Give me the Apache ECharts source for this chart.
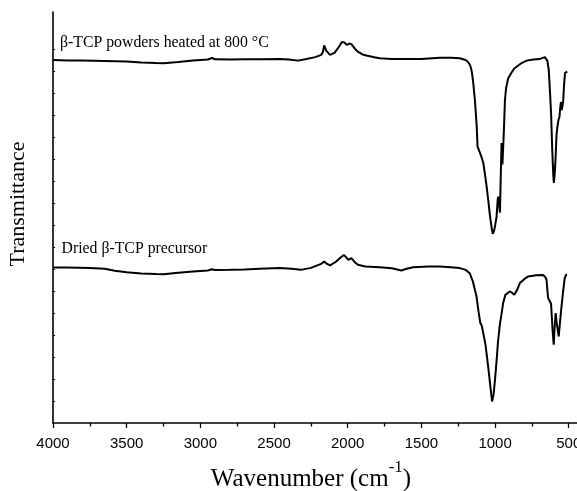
<!DOCTYPE html>
<html>
<head>
<meta charset="utf-8">
<script src="https://cdn.jsdelivr.net/npm/echarts@6/dist/echarts.min.js"></script>
<style>
html,body{margin:0;padding:0;background:#fff;}
#main{width:577px;height:491px;}
</style>
</head>
<body>
<div id="main"></div>
<script>
// Wavenumber (cm-1) and transmittance (arbitrary units, offset spectra)
const heatedWn = [4000,3900,3800,3650,3500,3400,3300,3250,3150,3050,2950,2920,2900,2800,2700,2600,2460,2400,2338,2280,2220,2180,2168,2160,2145,2120,2090,2060,2040,2025,2005,1990,1975,1950,1932,1900,1873,1820,1783,1700,1600,1500,1450,1375,1300,1240,1200,1185,1170,1160,1150,1137,1125,1119,1110,1105,1100,1090,1080,1068,1057,1045,1034,1022,1016,1008,1000,990,982,979,972,967,962,956,950,945,940,933,925,911,890,870,854,820,786,740,700,662,645,636,628,620,612,605,601,596,590,583,578,570,563,558,553,548,543,537,532,525,518,510];
const heatedT  = [16.50,16.48,16.47,16.45,16.43,16.39,16.36,16.35,16.41,16.48,16.52,16.59,16.53,16.52,16.53,16.53,16.54,16.52,16.47,16.54,16.63,16.73,16.86,17.16,16.91,16.73,16.82,17.09,17.32,17.30,17.18,17.25,17.22,17.00,16.88,16.75,16.70,16.62,16.58,16.54,16.54,16.54,16.57,16.60,16.60,16.58,16.50,16.42,16.27,16.04,15.59,14.68,13.54,12.56,12.50,12.32,12.41,12.05,11.82,11.28,10.73,10.05,9.38,8.82,8.60,8.70,8.96,9.37,10.15,10.29,9.92,9.56,11.05,12.73,11.75,11.82,13.32,14.68,15.23,15.67,15.91,16.11,16.19,16.36,16.47,16.52,16.54,16.63,16.46,16.06,15.14,14.09,12.41,11.28,10.91,11.27,11.96,13.09,13.41,13.77,13.91,14.32,14.59,14.23,14.38,14.68,15.36,15.91,15.95,15.97];

const driedWn = [4000,3900,3750,3650,3580,3500,3400,3300,3250,3150,3050,2950,2920,2900,2800,2700,2600,2460,2380,2318,2250,2180,2160,2140,2120,2080,2050,2026,2010,1996,1975,1955,1931,1880,1783,1700,1636,1600,1557,1450,1375,1300,1240,1200,1172,1150,1126,1112,1100,1090,1081,1065,1047,1030,1020,1010,1000,990,980,970,965,960,945,930,922,900,885,870,850,832,800,776,720,674,660,651,645,640,630,620,610,602,596,589,580,568,558,548,537,528,519,512];
const driedT  = [7.07,7.07,7.05,7.01,6.92,6.85,6.80,6.77,6.76,6.83,6.89,6.93,6.99,6.95,6.96,6.98,7.01,7.04,7.01,6.96,7.05,7.23,7.34,7.23,7.16,7.33,7.51,7.64,7.53,7.42,7.49,7.33,7.19,7.11,7.08,7.03,6.93,7.01,7.08,7.11,7.11,7.08,7.04,6.96,6.81,6.42,5.75,5.05,4.54,4.42,4.33,3.56,2.57,1.55,0.98,1.30,2.00,2.80,3.70,4.33,4.60,4.78,5.46,5.83,5.90,5.98,5.92,5.83,6.05,6.36,6.55,6.66,6.72,6.73,6.64,6.51,6.05,5.68,5.60,5.42,4.24,3.56,4.33,5.00,4.46,3.93,4.69,5.37,6.05,6.56,6.74,6.74];

const majorTicks = [4000,3500,3000,2500,2000,1500,1000,500];
const minorTicks = [3750,3250,2750,2250,1750,1250,750];
const yTicks = [1,2,3,4,5,6,7,8,9,10,11,12,13,14,15,16,17];

const labelTop = 'β-TCP powders heated at 800 °C';
const labelBottom = 'Dried β-TCP precursor';

function pairs(xs, ys){ return xs.map((x,i)=>[x, ys[i]]); }

const chart = echarts.init(document.getElementById('main'), null, {renderer:'canvas'});
const serif = '"Liberation Serif","Times New Roman",serif';
chart.setOption({
  animation:false,
  backgroundColor:'#fff',
  grid:{left:53, right:0, top:12, bottom:68, containLabel:false, outerBoundsMode:'none'},
  xAxis:[{
    type:'value', min:444, max:4000, inverse:true, position:'bottom',
    axisLine:{show:true, onZero:false, lineStyle:{color:'#000', width:1.6}},
    axisTick:{show:true, inside:false, length:5, customValues:majorTicks, lineStyle:{color:'#000', width:1.3}},
    axisLabel:{show:true, customValues:majorTicks, formatter:function(v){return String(v);}, color:'#000', fontFamily:'"Liberation Sans",Arial,sans-serif', fontSize:15, margin:13, hideOverlap:false},
    splitLine:{show:false}
  },{
    type:'value', min:444, max:4000, inverse:true, position:'bottom', offset:0,
    axisLine:{show:false},
    axisTick:{show:true, inside:false, length:3.5, customValues:minorTicks, lineStyle:{color:'#000', width:1.3}},
    axisLabel:{show:false},
    splitLine:{show:false}
  }],
  yAxis:{
    type:'value', min:0, max:18.68,
    axisLine:{show:true, onZero:false, lineStyle:{color:'#000', width:1.6}},
    axisTick:{show:true, inside:true, length:2, customValues:yTicks, lineStyle:{color:'#000', width:1.2}},
    axisLabel:{show:false},
    splitLine:{show:false}
  },
  series:[
    {type:'line', xAxisIndex:0, data:pairs(heatedWn, heatedT), showSymbol:false, symbol:'none', smooth:false,
     lineStyle:{color:'#000', width:2}, z:3},
    {type:'line', xAxisIndex:0, data:pairs(driedWn, driedT), showSymbol:false, symbol:'none', smooth:false,
     lineStyle:{color:'#000', width:2}, z:3}
  ],
  graphic:[
    {type:'text', x:18, y:204, rotation:Math.PI/2,
     style:{text:'Transmittance', font:'22px '+serif, fill:'#000', textAlign:'center', textVerticalAlign:'middle'}},
    {type:'text', x:60, y:42.5,
     style:{text:labelTop, font:'15.8px '+serif, fill:'#000', textAlign:'left', textVerticalAlign:'middle'}},
    {type:'text', x:61.5, y:248.5,
     style:{text:labelBottom, font:'15.8px '+serif, fill:'#000', textAlign:'left', textVerticalAlign:'middle'}},
    {type:'text', x:311, y:479,
     style:{text:'{a|Wavenumber (cm}{s|-1}{a|)}', textAlign:'center', textVerticalAlign:'middle', fill:'#000',
       rich:{
         a:{font:'25px '+serif, fill:'#000'},
         s:{font:'17px '+serif, fill:'#000', padding:[0,0,22,0]}
       }}}
  ]
});
</script>
</body>
</html>
